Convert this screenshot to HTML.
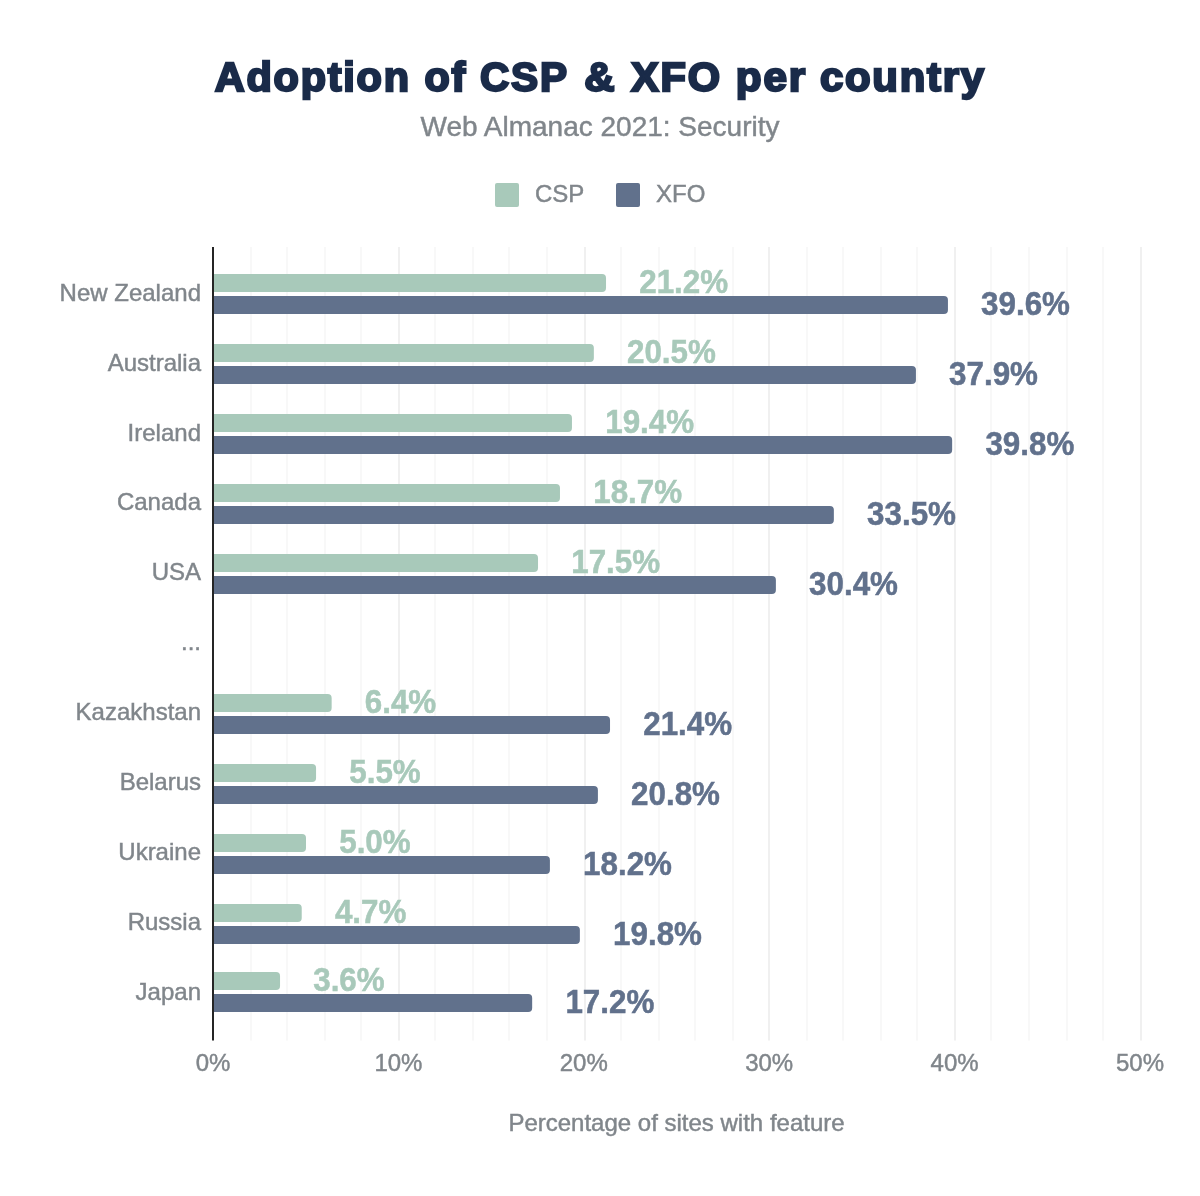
<!DOCTYPE html><html><head><meta charset="utf-8"><title>Adoption of CSP &amp; XFO per country</title>
<style>html,body{margin:0;padding:0;background:#fff}svg{display:block}text{font-family:"Liberation Sans",sans-serif}</style></head><body>
<svg width="1200" height="1196" viewBox="0 0 1200 1196">
<rect width="1200" height="1196" fill="#fff"/>
<rect x="250" y="247" width="2" height="793.5" fill="#f8f8f8"/>
<rect x="286" y="247" width="2" height="793.5" fill="#f8f8f8"/>
<rect x="324" y="247" width="2" height="793.5" fill="#f8f8f8"/>
<rect x="360" y="247" width="2" height="793.5" fill="#f8f8f8"/>
<rect x="398" y="247" width="2" height="793.5" fill="#f0f0f0"/>
<rect x="434" y="247" width="2" height="793.5" fill="#f8f8f8"/>
<rect x="472" y="247" width="2" height="793.5" fill="#f8f8f8"/>
<rect x="508" y="247" width="2" height="793.5" fill="#f8f8f8"/>
<rect x="546" y="247" width="2" height="793.5" fill="#f8f8f8"/>
<rect x="584" y="247" width="2" height="793.5" fill="#f0f0f0"/>
<rect x="620" y="247" width="2" height="793.5" fill="#f8f8f8"/>
<rect x="658" y="247" width="2" height="793.5" fill="#f8f8f8"/>
<rect x="694" y="247" width="2" height="793.5" fill="#f8f8f8"/>
<rect x="732" y="247" width="2" height="793.5" fill="#f8f8f8"/>
<rect x="768" y="247" width="2" height="793.5" fill="#f0f0f0"/>
<rect x="806" y="247" width="2" height="793.5" fill="#f8f8f8"/>
<rect x="842" y="247" width="2" height="793.5" fill="#f8f8f8"/>
<rect x="880" y="247" width="2" height="793.5" fill="#f8f8f8"/>
<rect x="916" y="247" width="2" height="793.5" fill="#f8f8f8"/>
<rect x="954" y="247" width="2" height="793.5" fill="#f0f0f0"/>
<rect x="990" y="247" width="2" height="793.5" fill="#f8f8f8"/>
<rect x="1028" y="247" width="2" height="793.5" fill="#f8f8f8"/>
<rect x="1066" y="247" width="2" height="793.5" fill="#f8f8f8"/>
<rect x="1102" y="247" width="2" height="793.5" fill="#f8f8f8"/>
<rect x="1140" y="247" width="2" height="793.5" fill="#f0f0f0"/>
<text x="201" y="300.8" text-anchor="end" font-size="24" fill="#80868b" stroke="#80868b" stroke-width=".45">New Zealand</text>
<path d="M213.0 274.0h389.03a4 4 0 0 1 4 4v10a4 4 0 0 1 -4 4h-389.03z" fill="#a8c9ba"/>
<path d="M213.0 296.0h730.94a4 4 0 0 1 4 4v10a4 4 0 0 1 -4 4h-730.94z" fill="#61718c"/>
<text transform="translate(639.2 292.5) scale(0.98 1.05)" font-size="32" font-weight="bold" fill="#a8c9ba" stroke="#a8c9ba" stroke-width=".5">21.2%</text>
<text transform="translate(981.1 315.4) scale(0.98 1.05)" font-size="32" font-weight="bold" fill="#61718c" stroke="#61718c" stroke-width=".5">39.6%</text>
<text x="201" y="370.7" text-anchor="end" font-size="24" fill="#80868b" stroke="#80868b" stroke-width=".45">Australia</text>
<path d="M213.0 344.0h376.85a4 4 0 0 1 4 4v10a4 4 0 0 1 -4 4h-376.85z" fill="#a8c9ba"/>
<path d="M213.0 366.0h698.93a4 4 0 0 1 4 4v10a4 4 0 0 1 -4 4h-698.93z" fill="#61718c"/>
<text transform="translate(627.0 362.5) scale(0.98 1.05)" font-size="32" font-weight="bold" fill="#a8c9ba" stroke="#a8c9ba" stroke-width=".5">20.5%</text>
<text transform="translate(949.1 385.4) scale(0.98 1.05)" font-size="32" font-weight="bold" fill="#61718c" stroke="#61718c" stroke-width=".5">37.9%</text>
<text x="201" y="440.6" text-anchor="end" font-size="24" fill="#80868b" stroke="#80868b" stroke-width=".45">Ireland</text>
<path d="M213.0 414.0h354.96a4 4 0 0 1 4 4v10a4 4 0 0 1 -4 4h-354.96z" fill="#a8c9ba"/>
<path d="M213.0 436.0h735.15a4 4 0 0 1 4 4v10a4 4 0 0 1 -4 4h-735.15z" fill="#61718c"/>
<text transform="translate(605.2 432.5) scale(0.98 1.05)" font-size="32" font-weight="bold" fill="#a8c9ba" stroke="#a8c9ba" stroke-width=".5">19.4%</text>
<text transform="translate(985.4 455.4) scale(0.98 1.05)" font-size="32" font-weight="bold" fill="#61718c" stroke="#61718c" stroke-width=".5">39.8%</text>
<text x="201" y="510.4" text-anchor="end" font-size="24" fill="#80868b" stroke="#80868b" stroke-width=".45">Canada</text>
<path d="M213.0 484.0h342.98a4 4 0 0 1 4 4v10a4 4 0 0 1 -4 4h-342.98z" fill="#a8c9ba"/>
<path d="M213.0 506.0h616.86a4 4 0 0 1 4 4v10a4 4 0 0 1 -4 4h-616.86z" fill="#61718c"/>
<text transform="translate(593.2 502.5) scale(0.98 1.05)" font-size="32" font-weight="bold" fill="#a8c9ba" stroke="#a8c9ba" stroke-width=".5">18.7%</text>
<text transform="translate(867.1 525.4) scale(0.98 1.05)" font-size="32" font-weight="bold" fill="#61718c" stroke="#61718c" stroke-width=".5">33.5%</text>
<text x="201" y="580.3" text-anchor="end" font-size="24" fill="#80868b" stroke="#80868b" stroke-width=".45">USA</text>
<path d="M213.0 554.0h321.03a4 4 0 0 1 4 4v10a4 4 0 0 1 -4 4h-321.03z" fill="#a8c9ba"/>
<path d="M213.0 576.0h558.89a4 4 0 0 1 4 4v10a4 4 0 0 1 -4 4h-558.89z" fill="#61718c"/>
<text transform="translate(571.2 572.5) scale(0.98 1.05)" font-size="32" font-weight="bold" fill="#a8c9ba" stroke="#a8c9ba" stroke-width=".5">17.5%</text>
<text transform="translate(809.1 595.4) scale(0.98 1.05)" font-size="32" font-weight="bold" fill="#61718c" stroke="#61718c" stroke-width=".5">30.4%</text>
<text x="201" y="650.2" text-anchor="end" font-size="24" fill="#80868b" stroke="#80868b" stroke-width=".45">...</text>
<text x="201" y="720.1" text-anchor="end" font-size="24" fill="#80868b" stroke="#80868b" stroke-width=".45">Kazakhstan</text>
<path d="M213.0 694.0h114.65a4 4 0 0 1 4 4v10a4 4 0 0 1 -4 4h-114.65z" fill="#a8c9ba"/>
<path d="M213.0 716.0h393.03a4 4 0 0 1 4 4v10a4 4 0 0 1 -4 4h-393.03z" fill="#61718c"/>
<text transform="translate(364.8 712.5) scale(0.98 1.05)" font-size="32" font-weight="bold" fill="#a8c9ba" stroke="#a8c9ba" stroke-width=".5">6.4%</text>
<text transform="translate(643.2 735.4) scale(0.98 1.05)" font-size="32" font-weight="bold" fill="#61718c" stroke="#61718c" stroke-width=".5">21.4%</text>
<text x="201" y="790.0" text-anchor="end" font-size="24" fill="#80868b" stroke="#80868b" stroke-width=".45">Belarus</text>
<path d="M213.0 764.0h99.06a4 4 0 0 1 4 4v10a4 4 0 0 1 -4 4h-99.06z" fill="#a8c9ba"/>
<path d="M213.0 786.0h380.91a4 4 0 0 1 4 4v10a4 4 0 0 1 -4 4h-380.91z" fill="#61718c"/>
<text transform="translate(349.3 782.5) scale(0.98 1.05)" font-size="32" font-weight="bold" fill="#a8c9ba" stroke="#a8c9ba" stroke-width=".5">5.5%</text>
<text transform="translate(631.1 805.4) scale(0.98 1.05)" font-size="32" font-weight="bold" fill="#61718c" stroke="#61718c" stroke-width=".5">20.8%</text>
<text x="201" y="859.8" text-anchor="end" font-size="24" fill="#80868b" stroke="#80868b" stroke-width=".45">Ukraine</text>
<path d="M213.0 834.0h89.00a4 4 0 0 1 4 4v10a4 4 0 0 1 -4 4h-89.00z" fill="#a8c9ba"/>
<path d="M213.0 856.0h332.91a4 4 0 0 1 4 4v10a4 4 0 0 1 -4 4h-332.91z" fill="#61718c"/>
<text transform="translate(339.2 852.5) scale(0.98 1.05)" font-size="32" font-weight="bold" fill="#a8c9ba" stroke="#a8c9ba" stroke-width=".5">5.0%</text>
<text transform="translate(583.1 875.4) scale(0.98 1.05)" font-size="32" font-weight="bold" fill="#61718c" stroke="#61718c" stroke-width=".5">18.2%</text>
<text x="201" y="929.7" text-anchor="end" font-size="24" fill="#80868b" stroke="#80868b" stroke-width=".45">Russia</text>
<path d="M213.0 904.0h84.73a4 4 0 0 1 4 4v10a4 4 0 0 1 -4 4h-84.73z" fill="#a8c9ba"/>
<path d="M213.0 926.0h362.87a4 4 0 0 1 4 4v10a4 4 0 0 1 -4 4h-362.87z" fill="#61718c"/>
<text transform="translate(334.9 922.5) scale(0.98 1.05)" font-size="32" font-weight="bold" fill="#a8c9ba" stroke="#a8c9ba" stroke-width=".5">4.7%</text>
<text transform="translate(613.1 945.4) scale(0.98 1.05)" font-size="32" font-weight="bold" fill="#61718c" stroke="#61718c" stroke-width=".5">19.8%</text>
<text x="201" y="999.6" text-anchor="end" font-size="24" fill="#80868b" stroke="#80868b" stroke-width=".45">Japan</text>
<path d="M213.0 972.0h63.04a4 4 0 0 1 4 4v10a4 4 0 0 1 -4 4h-63.04z" fill="#a8c9ba"/>
<path d="M213.0 994.0h315.17a4 4 0 0 1 4 4v10a4 4 0 0 1 -4 4h-315.17z" fill="#61718c"/>
<text transform="translate(313.2 990.5) scale(0.98 1.05)" font-size="32" font-weight="bold" fill="#a8c9ba" stroke="#a8c9ba" stroke-width=".5">3.6%</text>
<text transform="translate(565.4 1013.4) scale(0.98 1.05)" font-size="32" font-weight="bold" fill="#61718c" stroke="#61718c" stroke-width=".5">17.2%</text>
<rect x="212.0" y="247" width="2" height="793.5" fill="#252525"/>
<text x="213.0" y="1071" text-anchor="middle" font-size="24" fill="#80868b" stroke="#80868b" stroke-width=".45">0%</text>
<text x="398.4" y="1071" text-anchor="middle" font-size="24" fill="#80868b" stroke="#80868b" stroke-width=".45">10%</text>
<text x="583.8" y="1071" text-anchor="middle" font-size="24" fill="#80868b" stroke="#80868b" stroke-width=".45">20%</text>
<text x="769.2" y="1071" text-anchor="middle" font-size="24" fill="#80868b" stroke="#80868b" stroke-width=".45">30%</text>
<text x="954.6" y="1071" text-anchor="middle" font-size="24" fill="#80868b" stroke="#80868b" stroke-width=".45">40%</text>
<text x="1140.0" y="1071" text-anchor="middle" font-size="24" fill="#80868b" stroke="#80868b" stroke-width=".45">50%</text>
<text x="676.5" y="1130.5" text-anchor="middle" font-size="24" fill="#80868b" stroke="#80868b" stroke-width=".45">Percentage of sites with feature</text>
<text y="91.2" font-size="40" font-weight="bold" fill="#1a2b49" stroke="#1a2b49" stroke-width="2.3" stroke-linejoin="miter" stroke-miterlimit="3" letter-spacing="1.7"><tspan x="214.80" textLength="196.00" lengthAdjust="spacingAndGlyphs">Adoption</tspan> <tspan x="424.50" textLength="42.50" lengthAdjust="spacingAndGlyphs">of</tspan> <tspan x="480.00" textLength="88.00" lengthAdjust="spacingAndGlyphs">CSP</tspan> <tspan x="584.30" textLength="32.20" lengthAdjust="spacingAndGlyphs">&amp;</tspan> <tspan x="631.00" textLength="90.80" lengthAdjust="spacingAndGlyphs">XFO</tspan> <tspan x="735.80" textLength="71.20" lengthAdjust="spacingAndGlyphs">per</tspan> <tspan x="819.90" textLength="166.00" lengthAdjust="spacingAndGlyphs">country</tspan></text>
<text x="600" y="136.1" text-anchor="middle" font-size="28" fill="#80868b" stroke="#80868b" stroke-width=".45">Web Almanac 2021: Security</text>
<rect x="495" y="183" width="24" height="24" rx="2" fill="#a8c9ba"/>
<text x="535" y="201.7" font-size="24" fill="#80868b" stroke="#80868b" stroke-width=".45">CSP</text>
<rect x="616" y="183" width="24" height="24" rx="2" fill="#61718c"/>
<text x="656" y="201.7" font-size="24" fill="#80868b" stroke="#80868b" stroke-width=".45">XFO</text>
</svg></body></html>
